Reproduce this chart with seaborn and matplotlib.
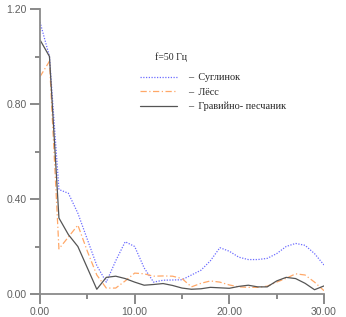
import numpy as np
import pandas as pd
import matplotlib
matplotlib.use("Agg")
import matplotlib.pyplot as plt
import seaborn as sns

# distance, m (sampled every 1.0)
dist = list(range(0, 31))

# amplitude for each soil type
suglinok = [1.145, 1.0, 0.44, 0.424, 0.34, 0.23, 0.12, 0.05, 0.14, 0.22,
            0.20, 0.11, 0.05, 0.058, 0.059, 0.06, 0.08, 0.10, 0.14, 0.195,
            0.18, 0.155, 0.145, 0.145, 0.15, 0.17, 0.20, 0.213, 0.205, 0.17,
            0.122]
loess = [0.915, 0.98, 0.19, 0.24, 0.29, 0.18, 0.08, 0.025, 0.025, 0.055,
         0.088, 0.085, 0.075, 0.076, 0.075, 0.065, 0.03, 0.045, 0.055, 0.05,
         0.038, 0.03, 0.028, 0.028, 0.033, 0.05, 0.066, 0.085, 0.08, 0.05,
         0.014]
gravel = [1.07, 1.0, 0.32, 0.25, 0.20, 0.11, 0.02, 0.07, 0.075, 0.065,
          0.05, 0.037, 0.04, 0.044, 0.036, 0.025, 0.02, 0.022, 0.028, 0.026,
          0.024, 0.032, 0.037, 0.03, 0.03, 0.055, 0.07, 0.065, 0.045, 0.018,
          0.034]

soils = ["Суглинок", "Лёсс", "Гравийно- песчаник"]
colors = ["#6c6cff", "#ffa868", "#555555"]
dash_styles = [(1, 1.2), (5, 2, 1, 2), ""]

df = pd.concat([
    pd.DataFrame({"x": dist, "A": vals, "soil": name})
    for name, vals in zip(soils, [suglinok, loess, gravel])
])

sns.set_style("white")

fig = plt.figure(figsize=(3.46, 3.17), dpi=100)
ax = fig.add_axes([40 / 346, 23 / 317, 284 / 346, 285 / 317])

sns.lineplot(data=df, x="x", y="A", hue="soil", style="soil",
             palette=dict(zip(soils, colors)),
             dashes=dict(zip(soils, dash_styles)),
             linewidth=0.9, ax=ax, legend=False)

ax.set_xlim(0, 30)
ax.set_ylim(0, 1.2)
ax.set_xlabel("")
ax.set_ylabel("")

for s in ["top", "right"]:
    ax.spines[s].set_visible(False)
for s in ["left", "bottom"]:
    ax.spines[s].set_color("#8a8a8a")
    ax.spines[s].set_linewidth(1.3)

ax.set_xticks([0, 10, 20, 30])
ax.set_xticks([5, 15, 25], minor=True)
ax.set_yticks([0, 0.4, 0.8, 1.2])
ax.set_yticks([0.2, 0.6, 1.0], minor=True)
ax.xaxis.set_major_formatter(matplotlib.ticker.FormatStrFormatter("%.2f"))
ax.yaxis.set_major_formatter(matplotlib.ticker.FormatStrFormatter("%.2f"))
ax.tick_params(which="major", length=7, width=1.1, color="#6a6a6a",
               labelsize=7.5, labelcolor="#606060", pad=2.5, direction="out",
               bottom=True, left=True)
ax.tick_params(which="minor", length=3.6, width=1.1, color="#6a6a6a",
               direction="out", bottom=True, left=True)
for lab in ax.get_xticklabels() + ax.get_yticklabels():
    lab.set_family("Liberation Sans")

# legend
handles = [plt.Line2D([], [], color=c, lw=0.9,
                      dashes=d if d else (None, None))
           for c, d in zip(colors, dash_styles)]
handles[2].set_linestyle("-")
leg = ax.legend(handles, ["–  " + s for s in soils], frameon=False,
                loc="upper left", bbox_to_anchor=(140 / 346, 1 - 73 / 317),
                bbox_transform=fig.transFigure, borderpad=0, borderaxespad=0,
                handlelength=3.6, handletextpad=1.1, labelspacing=0.5,
                prop={"family": "Liberation Serif", "size": 7.4})

fig.text(155 / 346, 1 - 57 / 317, "f=50 Гц", family="Liberation Serif",
         fontsize=7, va="center", ha="left")

fig.savefig("out.png", dpi=100)
